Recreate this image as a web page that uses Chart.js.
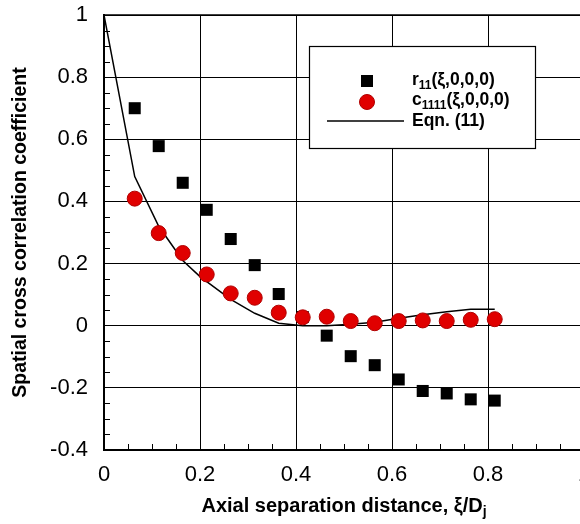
<!DOCTYPE html>
<html>
<head>
<meta charset="utf-8">
<script src="https://cdn.jsdelivr.net/npm/chart.js@4.4.1/dist/chart.umd.min.js"></script>
<style>
  html, body { margin: 0; padding: 0; background: #fff; overflow: hidden; width: 580px; height: 524px; }
  #wrap { width: 600px; height: 524px; }
</style>
</head>
<body>
<div id="wrap"><canvas id="c" width="600" height="524"></canvas></div>
<script>
// ---- data ----
const sepX   = [0.064,0.114,0.164,0.214,0.264,0.314,0.364,0.414,0.464,0.514,0.564,0.614,0.664,0.714,0.764,0.814];
const r11    = [0.700,0.578,0.460,0.373,0.279,0.195,0.102,0.028,-0.032,-0.098,-0.127,-0.173,-0.210,-0.218,-0.237,-0.241];
const c1111  = [0.409,0.298,0.234,0.165,0.104,0.090,0.042,0.027,0.029,0.015,0.008,0.015,0.017,0.015,0.019,0.021];
const eqnX   = [0,0.064,0.114,0.164,0.200,0.264,0.314,0.364,0.414,0.464,0.514,0.564,0.614,0.664,0.714,0.764,0.814];
const eqnY   = [1,0.480,0.320,0.210,0.158,0.085,0.040,0.008,0.000,0.000,0.005,0.011,0.024,0.035,0.045,0.053,0.053];
const xTicks = [0,0.2,0.4,0.6,0.8,1];
const yTicks = [-0.4,-0.2,0,0.2,0.4,0.6,0.8,1];

const FONT = '"Liberation Sans", Arial, Helvetica, sans-serif';
const pts = (xs, ys) => xs.map((x, i) => ({x: x, y: ys[i]}));
const fmt = v => String(Number(v.toFixed(1)));

// draw text with subscripts: parts = [[text, isSub], ...]
function drawRich(ctx, parts, x, y, size, align) {
  const subSize = Math.round(size * 0.7);
  let total = 0;
  parts.forEach(p => { ctx.font = 'bold ' + (p[1] ? subSize : size) + 'px ' + FONT; total += ctx.measureText(p[0]).width; });
  let cx = align === 'center' ? x - total / 2 : x;
  ctx.textBaseline = 'middle';
  ctx.textAlign = 'left';
  parts.forEach(p => {
    ctx.font = 'bold ' + (p[1] ? subSize : size) + 'px ' + FONT;
    ctx.fillText(p[0], cx, p[1] ? y + size * 0.32 : y);
    cx += ctx.measureText(p[0]).width;
  });
}

const decor = {
  id: 'decor',
  afterDraw(chart) {
    const ctx = chart.ctx, xs = chart.scales.x, ys = chart.scales.y, a = chart.chartArea;
    ctx.save();
    ctx.strokeStyle = '#000';
    ctx.lineWidth = 1;
    // minor ticks (inward)
    for (let i = -8; i <= 20; i++) {
      if (i % 4 === 0) continue;
      const py = Math.round(ys.getPixelForValue(i * 0.05)) + 0.5;
      ctx.beginPath(); ctx.moveTo(a.left, py); ctx.lineTo(a.left + 6, py); ctx.stroke();
    }
    for (let i = 1; i <= 20; i++) {
      if (i % 4 === 0) continue;
      const px = Math.round(xs.getPixelForValue(i * 0.05)) + 0.5;
      ctx.beginPath(); ctx.moveTo(px, a.bottom); ctx.lineTo(px, a.bottom - 6); ctx.stroke();
    }
    // top border
    ctx.lineWidth = 1.5;
    ctx.beginPath(); ctx.moveTo(a.left, a.top); ctx.lineTo(a.right, a.top); ctx.stroke();

    ctx.fillStyle = '#000';
    // x title
    drawRich(ctx, [['Axial separation distance, \u03BE/D', false], ['j', true]], (a.left + a.right) / 2, 506, 20, 'center');
    // y title
    ctx.save();
    ctx.translate(21, (a.top + a.bottom) / 2);
    ctx.rotate(-Math.PI / 2);
    ctx.font = 'bold 19.5px ' + FONT;
    ctx.textAlign = 'center'; ctx.textBaseline = 'middle';
    ctx.fillText('Spatial cross correlation coefficient', 0, 0);
    ctx.restore();

    // legend
    const L = 309, T = 46, W = 226, H = 102;
    ctx.fillStyle = '#fff';
    ctx.fillRect(L, T, W, H);
    ctx.lineWidth = 1.2;
    ctx.strokeRect(L + 0.5, T + 0.5, W, H);
    ctx.fillStyle = '#000';
    ctx.fillRect(367 - 6, 81 - 6, 12, 12);
    ctx.beginPath(); ctx.arc(367, 102, 7.5, 0, Math.PI * 2);
    ctx.fillStyle = '#e00000'; ctx.fill();
    ctx.strokeStyle = '#b00000'; ctx.lineWidth = 1; ctx.stroke();
    ctx.strokeStyle = '#000'; ctx.lineWidth = 1.5;
    ctx.beginPath(); ctx.moveTo(327, 121); ctx.lineTo(404, 121); ctx.stroke();
    ctx.fillStyle = '#000';
    drawRich(ctx, [['r', false], ['11', true], ['(\u03BE,0,0,0)', false]], 412, 80, 17.5, 'left');
    drawRich(ctx, [['c', false], ['1111', true], ['(\u03BE,0,0,0)', false]], 412, 100, 17.5, 'left');
    drawRich(ctx, [['Eqn. (11)', false]], 412, 121, 17.5, 'left');
    ctx.restore();
  }
};

new Chart(document.getElementById('c'), {
  type: 'scatter',
  data: {
    datasets: [
      { label: 'c1111', data: pts(sepX, c1111), order: 0, pointStyle: 'circle', pointRadius: 7.5, pointHoverRadius: 7.5,
        backgroundColor: '#e00000', borderColor: '#b00000', borderWidth: 1 },
      { label: 'r11', data: pts(sepX, r11), order: 1, pointStyle: 'rect', pointRadius: 8.5, pointHoverRadius: 8.5,
        backgroundColor: '#000', borderColor: '#000', borderWidth: 0 },
      { label: 'Eqn. (11)', type: 'line', data: pts(eqnX, eqnY), order: 2, showLine: true, pointRadius: 0,
        borderColor: '#000', borderWidth: 1.5, fill: false, tension: 0 }
    ]
  },
  options: {
    responsive: false,
    animation: false,
    events: [],
    layout: { padding: { top: 15, right: 16, left: 0, bottom: 0 } },
    plugins: { legend: { display: false }, tooltip: { enabled: false } },
    scales: {
      x: {
        type: 'linear', min: 0, max: 1,
        afterBuildTicks: s => { s.ticks = xTicks.map(v => ({ value: v })); },
        afterFit: s => { s.height = 74; s.paddingLeft = 0; s.paddingRight = 0; },
        ticks: { callback: v => fmt(v), color: '#000', font: { family: FONT, size: 22 }, padding: 12, maxRotation: 0 },
        grid: { color: '#000', lineWidth: 1, drawTicks: false },
        border: { color: '#000', width: 2 }
      },
      y: {
        type: 'linear', min: -0.4, max: 1,
        afterBuildTicks: s => { s.ticks = yTicks.map(v => ({ value: v })); },
        afterFit: s => { s.width = 104; s.paddingTop = 0; s.paddingBottom = 0; },
        ticks: { callback: v => fmt(v), color: '#000', font: { family: FONT, size: 22 }, padding: 16 },
        grid: { color: '#000', lineWidth: 1, drawTicks: false },
        border: { color: '#000', width: 2 }
      }
    }
  },
  plugins: [decor]
});
</script>
</body>
</html>
